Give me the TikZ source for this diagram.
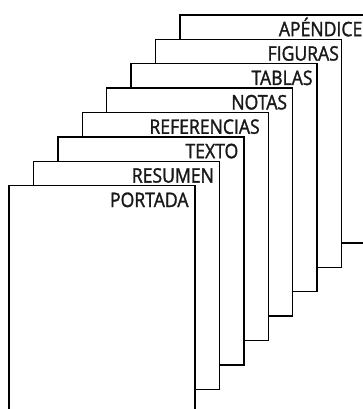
\documentclass[tikz,border=0pt]{standalone}
\usepackage{fontspec}
\newfontfamily\labfont[FakeStretch=0.88, FakeBold=1.5]{Open Sans}
\usetikzlibrary{calc}
\tikzset{
  sheet/.style={draw=black, fill=white, line width=1.4pt, rectangle, inner sep=0pt,
    minimum width=186pt, minimum height=228pt, anchor=north west},
  sheetlabel/.style={anchor=base east, inner sep=0pt, text=black!90,
    font=\labfont\fontsize{20}{22}\selectfont}
}
\begin{document}
\begin{tikzpicture}[x=1pt,y=-1pt]
\useasboundingbox (0,0) rectangle (363,409);
\clip (0,0) rectangle (363,409);
\foreach \i/\t/\m in {7/APÉNDICE/4, 6/FIGURAS/3, 5/TABLAS/5, 4/NOTAS/6, 3/REFERENCIAS/9, 2/TEXTO/6, 1/RESUMEN/6, 0/PORTADA/7}{
  \node[sheet] (p\i) at ({8.3+24.4*\i},{185-24.4*\i}) {};
  \node[sheetlabel] (l\i) at ($(p\i.north east)+(-\m,22)$) {\t};
}
\end{tikzpicture}
\end{document}
